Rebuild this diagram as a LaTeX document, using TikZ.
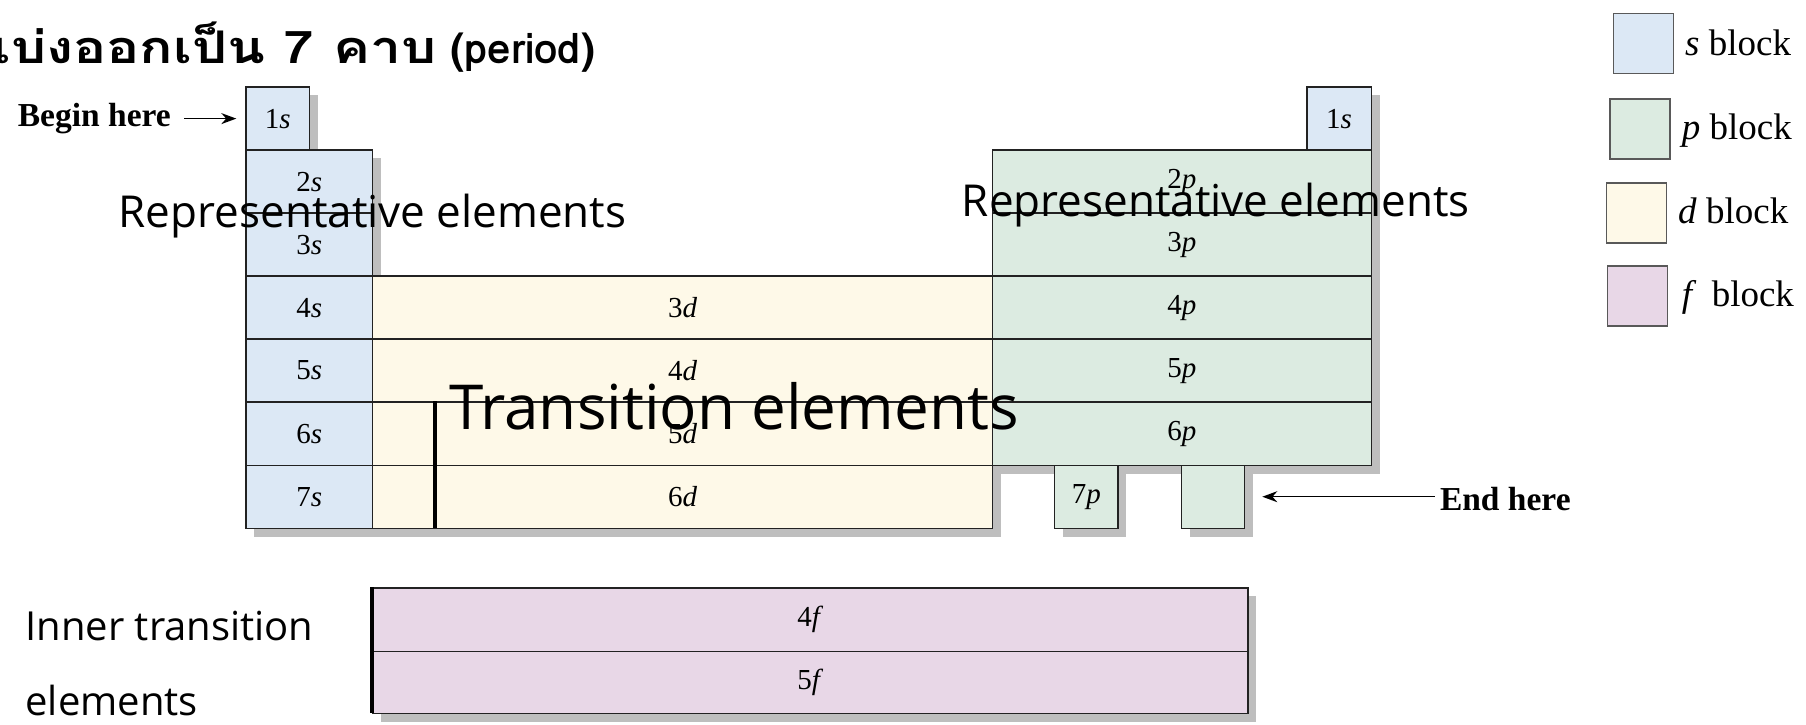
\documentclass[tikz,border=0pt]{standalone}
\usepackage{graphicx}
\usepackage{fontspec}
\setmainfont{Liberation Serif}
\newfontfamily\thaifont[Script=Thai]{Loma}
\newfontfamily\labelfont{Open Sans}
\usetikzlibrary{arrows.meta}
\pgfdeclarelayer{shadowlayer}
\pgfsetlayers{shadowlayer,main}
\definecolor{sblue}{HTML}{DCE8F5}
\definecolor{pgreen}{HTML}{DCEBE1}
\definecolor{dyellow}{HTML}{FEF9E8}
\definecolor{fpink}{HTML}{E8D7E7}
\definecolor{shadowgray}{HTML}{BEBEBE}
\definecolor{edgec}{HTML}{222222}
\tikzset{
  cellbox/.style={draw=edgec, line width=1.4pt, inner sep=0pt, anchor=north west,
    font=\fontsize{29}{29}\selectfont},
  sbox/.style={cellbox, fill=sblue},
  pbox/.style={cellbox, fill=pgreen},
  dbox/.style={cellbox, fill=dyellow},
  fbox/.style={cellbox, fill=fpink},
  legbox/.style={draw=black!65, line width=1.6pt, inner sep=0pt, minimum width=60pt,
    minimum height=60pt, anchor=north west},
  legtext/.style={anchor=base west, inner sep=0pt, font=\fontsize{37}{37}\selectfont},
  overlay/.style={anchor=base west, inner sep=0pt, font=\labelfont\fontsize{44}{44}\selectfont},
  marker/.style={anchor=base east, inner sep=0pt, font=\bfseries\fontsize{33.5}{33.5}\selectfont},
  pointer/.style={line width=1.5pt, -{Stealth[length=15pt,width=11pt]}},
  thickline/.style={line width=4pt, line cap=butt}
}
% name, style, x1, y1, x2, y2, label
\newcommand\blk[7]{%
  \begin{pgfonlayer}{shadowlayer}
    \fill[shadowgray] ({#3+9},{#4+9}) rectangle ({#5+9},{#6+9});
  \end{pgfonlayer}
  \node[#2, minimum width={#5-#3}, minimum height={#6-#4}] (#1) at (#3,#4) {#7};
}
\begin{document}
\begin{tikzpicture}[x=1pt,y=-1pt]
\useasboundingbox (0,0) rectangle (1806,724);
% title
\node[anchor=base east, inner sep=0pt, font=\thaifont\bfseries\fontsize{42}{42}\selectfont] (title) at (595.5,63) {\scalebox{1.23}[1]{\fontsize{45}{45}\selectfont แบ่งออกเป็น 7 คาบ} (period)};
% s block
\blk{s1}{sbox}{245.3}{86.4}{308.7}{149.4}{1\textit{s}}
\blk{s2}{sbox}{245.3}{149.4}{372}{212.4}{2\textit{s}}
\blk{s3}{sbox}{245.3}{212.4}{372}{275.4}{3\textit{s}}
\blk{s4}{sbox}{245.3}{275.4}{372}{338.4}{4\textit{s}}
\blk{s5}{sbox}{245.3}{338.4}{372}{401.4}{5\textit{s}}
\blk{s6}{sbox}{245.3}{401.4}{372}{464.5}{6\textit{s}}
\blk{s7}{sbox}{245.3}{464.5}{372}{527.5}{7\textit{s}}
\blk{he}{sbox}{1306.1}{86.4}{1370.6}{149.4}{1\textit{s}}
% d block
\blk{d3}{dbox}{372}{275.4}{991.7}{338.4}{3\textit{d}}
\blk{d4}{dbox}{372}{338.4}{991.7}{401.4}{4\textit{d}}
\blk{d5}{dbox}{372}{401.4}{991.7}{464.5}{5\textit{d}}
\blk{d6}{dbox}{372}{464.5}{991.7}{527.5}{6\textit{d}}
\draw[thickline] (435.4,401.4) -- (435.4,527.5);
% p block
\blk{p2}{pbox}{991.7}{149.4}{1370.6}{212.4}{2\textit{p}}
\blk{p3}{pbox}{991.7}{212.4}{1370.6}{275.4}{3\textit{p}}
\blk{p4}{pbox}{991.7}{275.4}{1370.6}{338.4}{4\textit{p}}
\blk{p5}{pbox}{991.7}{338.4}{1370.6}{401.4}{5\textit{p}}
\blk{p6}{pbox}{991.7}{401.4}{1370.6}{464.5}{6\textit{p}}
\blk{p7a}{pbox}{1053.9}{464.5}{1117.2}{527.5}{7\textit{p}}
\blk{p7b}{pbox}{1180.6}{464.5}{1243.9}{527.5}{}
% f block
\blk{f4}{fbox}{372}{587.4}{1247.4}{650.8}{4\textit{f}}
\blk{f5}{fbox}{372}{650.8}{1247.4}{713}{5\textit{f}}
\draw[thickline] (372,587.4) -- (372,713);
% begin / end markers
\node[marker] (bh) at (171,126.7) {Begin here};
\draw[pointer, shorten <=13pt, shorten >=9pt] (bh.east |- s1.west) -- (s1.west);
\node[marker, anchor=base west] (eh) at (1439.8,510) {End here};
\draw[pointer, shorten <=5pt, shorten >=17pt] (eh.west |- p7b.east) -- (p7b.east);
% legend
\node[legbox, fill=sblue] (ls) at (1612.5,12.7) {};
\node[legtext] (lst) at (1685,55.3) {\textit{s} block};
\node[legbox, fill=pgreen] (lp) at (1609,97.9) {};
\node[legtext] (lpt) at (1681.6,139.4) {\textit{p} block};
\node[legbox, fill=dyellow] (ld) at (1605.6,182) {};
\node[legtext] (ldt) at (1678,223.4) {\textit{d} block};
\node[legbox, fill=fpink] (lf) at (1606.8,265) {};
\node[legtext] (lft) at (1681.6,306.4) {\textit{f}\, block};
% overlay labels
\node[overlay] (rep1) at (118.6,227) {Representative elements};
\node[overlay] (rep2) at (961.7,216.5) {Representative elements};
\node[overlay, font=\labelfont\fontsize{62}{62}\selectfont] (trans) at (449,429.6) {Transition elements};
\node[overlay, font=\labelfont\fontsize{40}{40}\selectfont] (inner1) at (25.3,640.4) {Inner transition};
\node[overlay, font=\labelfont\fontsize{40}{40}\selectfont] (inner2) at (25.3,715) {elements};
\end{tikzpicture}
\end{document}
